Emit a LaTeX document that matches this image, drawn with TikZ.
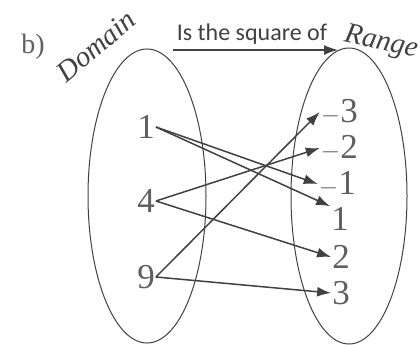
\documentclass[tikz,border=0pt]{standalone}
\usepackage{fontspec}
\setmainfont{Liberation Serif}
\newfontfamily\calfont{Carlito}
\usetikzlibrary{arrows.meta}
\definecolor{numgray}{RGB}{95,95,95}
\definecolor{ink}{RGB}{65,65,65}
\tikzset{
  num/.style={text=numgray,font=\fontsize{35}{35}\selectfont,inner sep=1pt},
  maparrow/.style={ink,line width=1.5pt,-{Latex[length=14pt,width=10pt]}},
  hand/.style={text=ink,font=\itshape\fontsize{29}{29}\selectfont}
}
\begin{document}
\begin{tikzpicture}[x=1pt,y=-1pt]
\useasboundingbox (0,0) rectangle (420,345);
\draw[ink,line width=1pt] (147,196) ellipse [x radius=59, y radius=147];
\draw[ink,line width=1pt] (349,196) ellipse [x radius=58, y radius=148];
\node[text=numgray,font=\fontsize{28}{28}\selectfont] (lbl) at (33,47) {b)};
\node[hand,rotate=40] (dom) at (96,46) {Domain};
\node[hand,rotate=-12] (ran) at (381,43) {Range};
\node[text=ink,font=\calfont\fontsize{24}{24}\selectfont] (rel) at (252,34) {Is the square of};
\coordinate (ta) at (173,50);
\coordinate (tb) at (338,50);
\draw[maparrow] (ta) -- (tb);
\node[num] (d1) at (146,127) {1};
\node[num] (d4) at (146,201) {4};
\node[num] (d9) at (146,277) {9};
\node[num,anchor=east] (rm3) at (359,112) {$-$3};
\node[num,anchor=east] (rm2) at (359,148) {$-$2};
\node[num,anchor=east] (rm1) at (357,184) {$-$1};
\node[num,anchor=east] (r1) at (350,219) {1};
\node[num,anchor=east] (r2) at (351,257) {2};
\node[num,anchor=east] (r3) at (351,293) {3};
\draw[maparrow] (d1.east) -- (rm1.west);
\draw[maparrow] (d1.east) -- (r1.north west);
\draw[maparrow] (d4.east) -- (rm2.west);
\draw[maparrow] (d4.east) -- (r2.west);
\draw[maparrow] (d9.east) -- (rm3.west);
\draw[maparrow] (d9.east) -- (r3.west);
\end{tikzpicture}
\end{document}
